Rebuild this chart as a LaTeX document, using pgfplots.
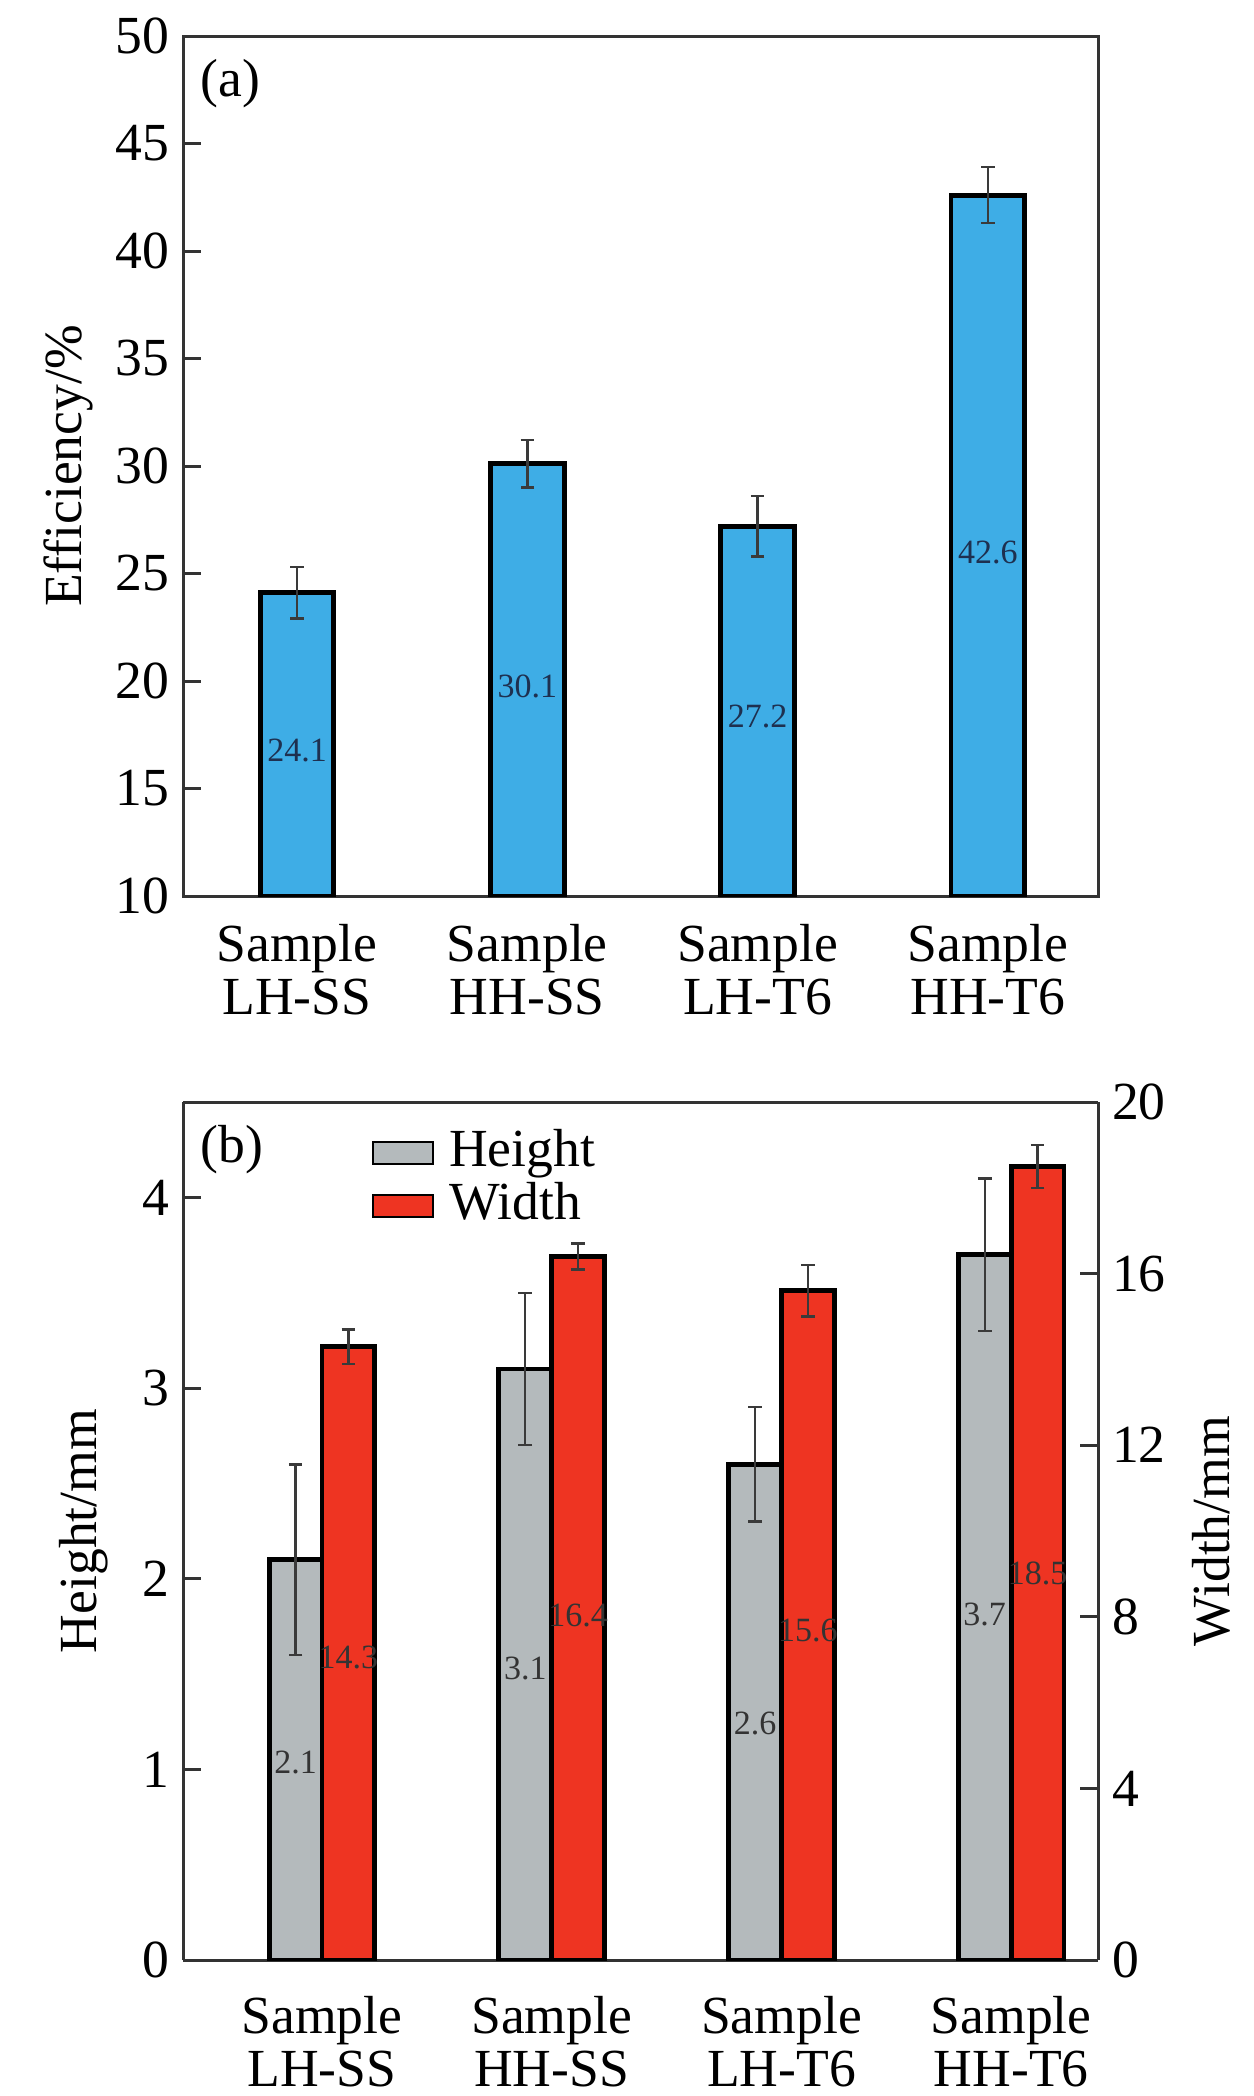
\documentclass[border=0pt]{standalone}
\usepackage{fontspec}
\setmainfont{Liberation Serif}
\newfontfamily\tnr{Liberation Serif}
\usepackage{pgfplots}
\usepackage{pgfplotstable}
\pgfplotsset{compat=1.18}
\definecolor{barblue}{HTML}{3EADE6}
\definecolor{bargray}{HTML}{B4BABC}
\definecolor{barred}{HTML}{EE3422}
\definecolor{axisgray}{HTML}{333333}
\definecolor{errgray}{HTML}{3A3A3A}
\definecolor{labnavy}{HTML}{1E3050}
\newcommand{\mainfs}{\tnr\fontsize{13.4}{13.2}\selectfont}
\newcommand{\valfs}{\tnr\fontsize{8.5}{9}\selectfont}

\pgfplotstableread{
x y err mid
0 24.1 1.2 16.75
1 30.1 1.1 19.75
2 27.2 1.4 18.35
3 42.6 1.3 26.0
}\effdata

\pgfplotstableread{
x y err mid
0 2.1 0.5 1.035
1 3.1 0.4 1.53
2 2.6 0.3 1.24
3 3.7 0.4 1.81
}\heightdata

\pgfplotstableread{
x y err mid
0 14.3 0.4 7.05
1 16.4 0.3 8.03
2 15.6 0.6 7.67
3 18.5 0.5 9.02
}\widthdata

\pgfplotsset{
  common/.style={
    scale only axis, width=228.75pt,
    /pgf/number format/assume math mode=true,
    tick label style={font=\mainfs},
    yticklabel={\mainfs\pgfmathprintnumber[assume math mode=true]{\tick}},
    label style={font=\mainfs},
    axis line style={line width=0.75pt, draw=axisgray, -},
    every outer x axis line/.append style={-},
    every outer y axis line/.append style={-},
    tick align=inside, major tick length=4.5pt,
    tick style={line width=0.75pt, draw=axisgray},
    xtick={0,1,2,3},
    xticklabels={{\mainfs Sample\\\mainfs LH-SS},{\mainfs Sample\\\mainfs HH-SS},{\mainfs Sample\\\mainfs LH-T6},{\mainfs Sample\\\mainfs HH-T6}},
    x tick style={draw=none},
    clip=true,
  },
  errs/.style={
    error bars/.cd, y dir=both, y explicit,
    error bar style={line width=0.6pt, draw=errgray},
    error mark options={rotate=90, line width=0.6pt, mark size=1.7pt, draw=errgray},
  },
  vallab/.style={draw=none, mark=none, forget plot,
    nodes near coords, point meta=explicit symbolic,
    every node near coord/.append style={anchor=center, font=\valfs, text=#1, inner sep=0pt}},
}

\begin{document}
\begin{tikzpicture}
\useasboundingbox (0,0) rectangle (313.25pt,-524pt);

% ---------- panel (a) ----------
\begin{axis}[common, at={(45.75pt,-224pt)}, height=215pt,
  xmin=-0.495, xmax=3.478, ymin=10, ymax=50,
  ytick={10,15,...,50}, ytick pos=left,
  xticklabel style={align=center, yshift=-3.5pt},
  ylabel={Efficiency/\%},
  ylabel style={at={(axis description cs:-0.125,0.5)}, anchor=center, rotate=0},
]
\addplot[ybar, bar width=0.32, bar shift=0pt, fill=barblue, draw=black, line width=1.2pt, errs]
  table[x=x, y=y, y error=err] {\effdata};
\addplot[vallab=labnavy] table[x=x, y=mid, meta=y] {\effdata};
\node[anchor=west, font=\mainfs, inner sep=0pt] at (axis description cs:0.0186,0.945) {(a)};
\end{axis}

% ---------- panel (b), left axis ----------
\begin{axis}[common, at={(45.75pt,-490pt)}, height=214.5pt,
  xmin=-0.605, xmax=3.378, ymin=0, ymax=4.5,
  ytick={0,1,2,3,4},
  axis y line*=left,
  xticklabel style={align=center, yshift=-5.5pt},
  ylabel={Height/mm},
  ylabel style={at={(axis description cs:-0.109,0.5)}, anchor=center},
]
\addplot[ybar, bar width=0.23, bar shift=0pt, fill=bargray, draw=black, line width=1.2pt, errs]
  table[x expr=\thisrow{x}-0.115, y=y, y error=err] {\heightdata};
\addplot[vallab=black!80] table[x expr=\thisrow{x}-0.115, y=mid, meta=y] {\heightdata};
\node[anchor=west, font=\mainfs, inner sep=0pt] at (axis description cs:0.0186,0.944) {(b)};
\end{axis}

% ---------- panel (b), right axis ----------
\begin{axis}[common, at={(45.75pt,-490pt)}, height=214.5pt,
  xmin=-0.605, xmax=3.378, ymin=0, ymax=20,
  ytick={0,4,...,20},
  axis y line*=right, axis x line=none,
  ylabel={Width/mm},
  ylabel style={at={(axis description cs:1.1235,0.5)}, anchor=center, rotate=0},
  legend image code/.code={\draw[#1, line width=0.5pt] (0pt,-2.75pt) rectangle (15pt,2.75pt); \path (17.5pt,0pt);},
  legend style={at={(axis description cs:0.2055,0.972)}, anchor=north west, draw=none, fill=none,
    font=\mainfs, row sep=0pt, inner sep=0pt,
    nodes={inner sep=1pt, text height=8.8pt, text depth=2.45pt}},
  legend cell align=left,
]
\addlegendimage{fill=bargray, draw=black}
\addlegendentry{Height}
\addplot[ybar, bar width=0.23, bar shift=0pt, fill=barred, draw=black, line width=1.2pt, errs]
  table[x expr=\thisrow{x}+0.115, y=y, y error=err] {\widthdata};
\addlegendentry{Width}
\addplot[vallab=black!80] table[x expr=\thisrow{x}+0.115, y=mid, meta=y] {\widthdata};
\end{axis}
\end{tikzpicture}
\end{document}
